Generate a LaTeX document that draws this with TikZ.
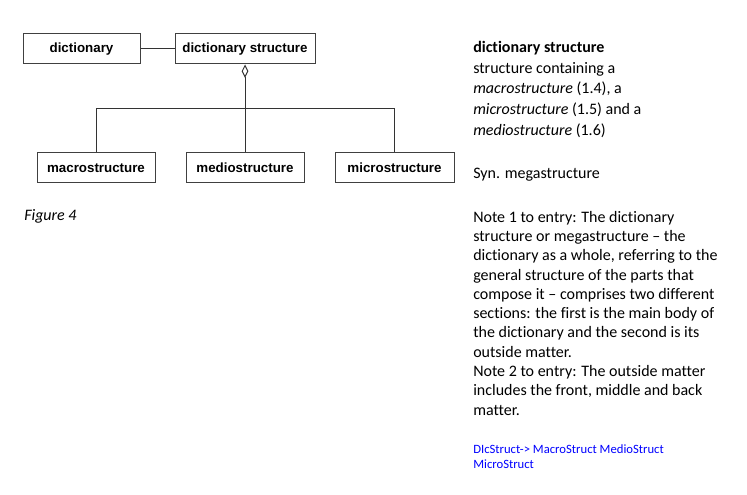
\documentclass[tikz,border=0pt]{standalone}
\usepackage{fontspec}
\setmainfont{Carlito}[Ligatures=NoCommon]
\newfontfamily\boxfont{Liberation Sans}
\usetikzlibrary{arrows.meta,calc,positioning}
\tikzset{
  umlclass/.style = {rectangle, minimum height=22.5pt, text centered, draw=black!75, line width=0.75pt, font=\boxfont\fontsize{10}{12}\selectfont\bfseries},
  link/.style = {draw=black!80, line width=0.75pt},
  aggr/.style = {link, {Diamond[open,width=5pt,length=10pt]}-},
  deftext/.style = {inner sep=0pt, align=left, anchor=north west},
}

\begin{document}
\begin{tikzpicture}[x=0.75pt, y=-0.75pt]
\useasboundingbox (0,0) rectangle (747,495);

\node (dict) [umlclass, minimum width=87.75pt] at (81.5,49) {dictionary};
\node (dstruct) [umlclass, minimum width=105pt, right=25.5pt of dict] {dictionary structure};
\node (medio) [umlclass, minimum width=88.5pt, below=66pt of dstruct] {mediostructure};
\node (macro) [umlclass, minimum width=88.5pt, left=22.5pt of medio] {macrostructure};
\node (micro) [umlclass, minimum width=89.25pt, right=22.5pt of medio] {microstructure};
\coordinate (bar) at ($(dstruct.south)!.5!(medio.north)$);

\draw [link] (dict) -- (dstruct);
\draw [aggr] (dstruct.south) -- (medio.north);
\draw [link] (macro.north) |- (bar) -| (micro.north);

\node (fig) [inner sep=0pt, anchor=base west, font=\fontsize{12}{14}\selectfont\itshape] at (24,220.7) {Figure 4};
%
\node (term) [deftext, font=\fontsize{12}{15.5}\selectfont] at (473,41) {\textbf{dictionary structure}\\
structure containing a\\
\textit{macrostructure} (1.4), a\\
\textit{microstructure} (1.5) and a\\
\textit{mediostructure} (1.6)};
\node (syn) [inner sep=0pt, anchor=base west, font=\fontsize{12}{15.5}\selectfont] at (473,179) {Syn. megastructure};
\node (notes) [deftext, font=\fontsize{12}{14.45}\selectfont] at (473,211) {Note 1 to entry: The dictionary\\
structure or megastructure -- the\\
dictionary as a whole, referring to the\\
general structure of the parts that\\
compose it -- comprises two different\\
sections: the first is the main body of\\
the dictionary and the second is its\\
outside matter.\\
Note 2 to entry: The outside matter\\
includes the front, middle and back\\
matter.};
\node (codes) [deftext, text=blue, font=\fontsize{9.5}{11.25}\selectfont] at (473,444.5) {DIcStruct-> MacroStruct MedioStruct\\
MicroStruct};

\end{tikzpicture}
\end{document}
